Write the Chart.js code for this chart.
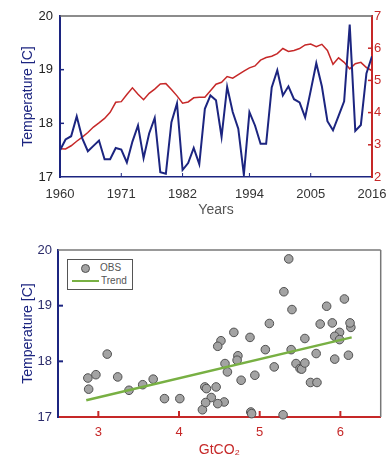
<!DOCTYPE html>
<html><head><meta charset="utf-8">
<script src="https://cdn.jsdelivr.net/npm/chart.js@4.4.1/dist/chart.umd.min.js"></script>
<style>
html,body{margin:0;padding:0;background:#fff;width:386px;height:462px;overflow:hidden;}
#c1{position:absolute;left:0;top:0;}
#c2{position:absolute;left:0;top:230px;}
#legend{position:absolute;left:67px;top:259px;width:64px;height:29px;border:1px solid #555;background:#fff;font-family:"Liberation Sans",Arial,sans-serif;font-size:10px;color:#555;z-index:2;}
#legend .dot{position:absolute;left:13px;top:4px;width:7px;height:7px;border-radius:50%;background:#a3a3a3;border:1px solid #505050;}
#legend .ln{position:absolute;left:4px;top:20px;width:27px;height:2px;background:#78b043;}
#legend .lt{position:absolute;line-height:12px;}
</style></head>
<body>
<canvas id="c1" width="386" height="230"></canvas>
<canvas id="c2" width="386" height="232"></canvas>
<div id="legend">
  <span class="dot"></span><span class="lt" style="left:32px;top:2px">OBS</span>
  <span class="ln"></span><span class="lt" style="left:33px;top:15px">Trend</span>
</div>
<script>
const years = [1960,1961,1962,1963,1964,1965,1966,1967,1968,1969,
  1970,1971,1972,1973,1974,1975,1976,1977,1978,1979,
  1980,1981,1982,1983,1984,1985,1986,1987,1988,1989,
  1990,1991,1992,1993,1994,1995,1996,1997,1998,1999,
  2000,2001,2002,2003,2004,2005,2006,2007,2008,2009,
  2010,2011,2012,2013,2014,2015,2016];
const temperature = [17.50,17.70,17.76,18.13,17.72,17.48,17.58,17.68,17.33,17.33,
  17.54,17.51,17.27,17.66,17.96,17.35,17.81,18.10,17.09,17.06,
  18.02,18.37,17.13,17.26,17.54,17.24,18.27,18.52,18.43,17.75,
  18.68,18.21,17.90,17.04,18.21,17.96,17.62,17.62,18.67,18.99,
  18.52,18.69,18.45,18.39,18.11,18.61,19.12,18.69,18.04,17.87,
  18.14,18.41,19.84,17.86,17.97,18.93,19.25];
const emissions = [2.88,2.87,2.97,3.11,3.24,3.38,3.55,3.68,3.82,4.01,
  4.32,4.34,4.56,4.77,4.57,4.40,4.60,4.73,4.89,4.90,
  4.72,4.52,4.29,4.33,4.46,4.48,4.48,4.68,4.88,4.94,
  5.12,5.07,5.18,5.29,5.39,5.45,5.63,5.71,5.75,5.83,
  5.99,5.90,5.93,5.99,6.10,6.13,6.05,6.12,5.93,5.50,
  5.70,5.56,5.36,5.52,5.56,5.40,5.30];
const yearTicks = [1960,1971,1982,1994,2005,2016];
const tempTicks = [17,18,19,20];
const emissionTicks = [2,3,4,5,6,7];
const co2Ticks = [3,4,5,6];
const trendX = [2.85,6.14];
const trendY = [17.30,18.43];

const NAVY = '#1c2580';
const RED = '#c62828';
const GREEN = '#78b043';
Chart.defaults.font.family = '"Liberation Sans", Arial, sans-serif';
Chart.defaults.animation = false;

const frameTicks = {
  id: 'frameTicks',
  afterDraw(chart, args, opts) {
    const ctx = chart.ctx, a = chart.chartArea;
    ctx.save();
    (opts.frame || []).forEach(f => {
      ctx.strokeStyle = f.color; ctx.lineWidth = f.width;
      ctx.beginPath();
      if (f.side === 'top') { ctx.moveTo(a.left, a.top); ctx.lineTo(a.right, a.top); }
      if (f.side === 'right') { ctx.moveTo(a.right, a.top); ctx.lineTo(a.right, a.bottom); }
      ctx.stroke();
    });
    const marks = opts.marks || {};
    Object.values(chart.scales).forEach(s => {
      const t = marks[s.id]; if (!t) return;
      ctx.strokeStyle = t.color; ctx.lineWidth = t.width;
      s.ticks.forEach(tk => {
        const p = s.getPixelForValue(tk.value);
        ctx.beginPath();
        if (s.isHorizontal()) {
          if (p <= a.left + 1 || p >= a.right - 1) return;
          ctx.moveTo(p, a.bottom); ctx.lineTo(p, a.bottom - t.len);
        } else {
          if (p <= a.top + 1 || p >= a.bottom - 1) return;
          const x0 = s.position === 'left' ? a.left : a.right;
          const dir = s.position === 'left' ? 1 : -1;
          ctx.moveTo(x0, p); ctx.lineTo(x0 + dir * t.len, p);
        }
        ctx.stroke();
      });
    });
    ctx.restore();
  }
};

function fixedTicks(arr) { return s => { s.ticks = arr.map(v => ({value: v})); }; }

new Chart(document.getElementById('c1'), {
  type: 'line',
  data: {
    datasets: [
      { label: 'Temperature', data: years.map((y, i) => ({x: y, y: temperature[i]})), yAxisID: 'y',
        borderColor: NAVY, borderWidth: 2, pointRadius: 0, tension: 0 },
      { label: 'Emissions', data: years.map((y, i) => ({x: y, y: emissions[i]})), yAxisID: 'y2',
        borderColor: RED, borderWidth: 1.5, pointRadius: 0, tension: 0 }
    ]
  },
  options: {
    responsive: false, devicePixelRatio: 1,
    layout: { padding: { top: 16, right: 0, left: 0, bottom: 0 } },
    plugins: { legend: { display: false }, tooltip: { enabled: false },
      frameTicks: { frame: [{side: 'top', color: '#666', width: 1.5}],
        marks: { x: {color: NAVY, width: 1, len: 4}, y: {color: NAVY, width: 1.5, len: 4}, y2: {color: RED, width: 1.5, len: 4} } } },
    scales: {
      x: { type: 'linear', min: 1960, max: 2016, afterBuildTicks: fixedTicks(yearTicks),
        ticks: { color: '#333', font: {size: 13}, padding: 10, autoSkip: false, maxRotation: 0, callback: v => String(v) },
        grid: { display: false, drawTicks: false }, border: { display: true, color: NAVY, width: 1.5 },
        title: { display: true, text: 'Years', color: '#555', font: {size: 14}, padding: {top: 0, bottom: 11.6} },
        afterFit: s => { s.height = 53; s.paddingLeft = 0; s.paddingRight = 0; } },
      y: { position: 'left', min: 17, max: 20, afterBuildTicks: fixedTicks(tempTicks),
        ticks: { color: '#222', font: {size: 13}, padding: 7, callback: v => String(v) },
        grid: { display: false, drawTicks: false }, border: { display: true, color: NAVY, width: 2 },
        title: { display: true, text: 'Temperature [C]', color: NAVY, font: {size: 14}, padding: {top: 19.6, bottom: 0} },
        afterFit: s => { s.width = 60; s.paddingTop = 0; s.paddingBottom = 0; } },
      y2: { position: 'right', min: 2, max: 7, afterBuildTicks: fixedTicks(emissionTicks),
        ticks: { color: RED, font: {size: 13}, padding: 2, callback: v => String(v) },
        grid: { display: false, drawTicks: false }, border: { display: true, color: RED, width: 2 },
        afterFit: s => { s.width = 14; s.paddingTop = 0; s.paddingBottom = 0; } }
    }
  },
  plugins: [frameTicks]
});

new Chart(document.getElementById('c2'), {
  type: 'scatter',
  data: {
    datasets: [
      { type: 'line', label: 'Trend', data: trendX.map((x, i) => ({x: x, y: trendY[i]})),
        borderColor: GREEN, borderWidth: 2.5, pointRadius: 0, tension: 0 },
      { label: 'OBS', data: emissions.map((c, i) => ({x: c, y: temperature[i]})),
        backgroundColor: '#a3a3a3', borderColor: '#505050', borderWidth: 1, pointRadius: 4.3, clip: false }
    ]
  },
  options: {
    responsive: false, devicePixelRatio: 1,
    layout: { padding: { top: 20, right: 3, left: 0, bottom: 0 } },
    plugins: { legend: { display: false }, tooltip: { enabled: false },
      frameTicks: { frame: [{side: 'top', color: '#777', width: 1.5}, {side: 'right', color: '#777', width: 1.5}],
        marks: { x: {color: RED, width: 2, len: 6}, y: {color: NAVY, width: 2, len: 5} } } },
    scales: {
      x: { type: 'linear', min: 2.5, max: 6.5, afterBuildTicks: fixedTicks(co2Ticks),
        ticks: { color: RED, font: {size: 13}, padding: 8, autoSkip: false, maxRotation: 0, callback: v => String(v) },
        grid: { display: false, drawTicks: false }, border: { display: true, color: RED, width: 2 },
        title: { display: true, text: 'GtCO\u2082', color: RED, font: {size: 14}, padding: {top: 0, bottom: 3.6} },
        afterFit: s => { s.height = 45; s.paddingLeft = 0; s.paddingRight = 0; } },
      y: { position: 'left', min: 17, max: 20, afterBuildTicks: fixedTicks(tempTicks),
        ticks: { color: '#2b2b6b', font: {size: 13}, padding: 6, callback: v => String(v) },
        grid: { display: false, drawTicks: false }, border: { display: true, color: NAVY, width: 2 },
        title: { display: true, text: 'Temperature [C]', color: NAVY, font: {size: 14}, padding: {top: 19.6, bottom: 0} },
        afterFit: s => { s.width = 58; s.paddingTop = 0; s.paddingBottom = 0; } }
    }
  },
  plugins: [frameTicks]
});
</script>
</body></html>
